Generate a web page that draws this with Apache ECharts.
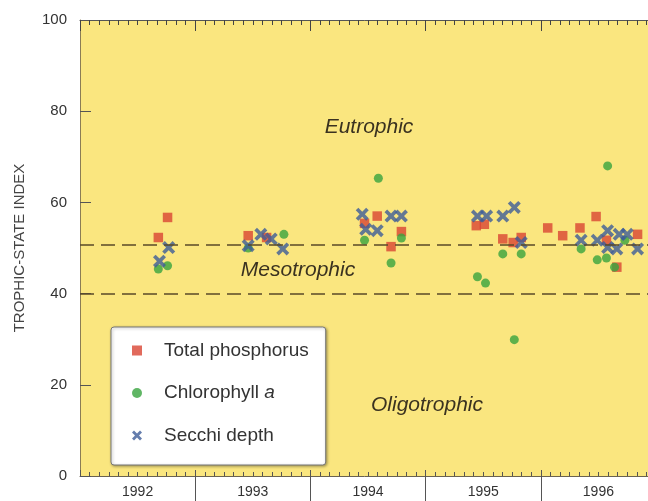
<!DOCTYPE html>
<html>
<head>
<meta charset="utf-8">
<script src="https://cdn.jsdelivr.net/npm/echarts@6/dist/echarts.min.js"></script>
<style>
html,body{margin:0;padding:0;background:#fff;}
#chart{width:648px;height:501px;}
</style>
</head>
<body>
<div id="chart"></div>
<script>
// ---- data ----
const yearLabels = ['1992', '1993', '1994', '1995', '1996'];
const yearBoundaries = [1993, 1994, 1995, 1996];
const thresholds = [50.7, 40];
const regionLabels = ['Eutrophic', 'Mesotrophic', 'Oligotrophic'];
const seriesNames = ['Total phosphorus', 'Chlorophyll a', 'Secchi depth'];

const phosphorus = [
  [1992.68, 52.3], [1992.76, 56.7],
  [1993.46, 52.7], [1993.62, 52.3],
  [1994.47, 55.4], [1994.58, 57.0], [1994.70, 50.3], [1994.79, 53.6],
  [1995.44, 54.9], [1995.51, 55.2], [1995.67, 52.0], [1995.76, 51.2], [1995.83, 52.3],
  [1996.06, 54.4], [1996.19, 52.7], [1996.34, 54.4], [1996.48, 56.9], [1996.57, 51.7],
  [1996.66, 45.8], [1996.84, 53.0]
];
const chlorophyll = [
  [1992.68, 45.4], [1992.76, 46.1],
  [1993.46, 50.0], [1993.77, 53.0],
  [1994.47, 51.7], [1994.59, 65.3], [1994.70, 46.7], [1994.79, 52.2],
  [1995.45, 43.7], [1995.52, 42.3], [1995.67, 48.7], [1995.77, 29.9], [1995.83, 48.7],
  [1996.35, 49.8], [1996.49, 47.4], [1996.57, 47.8], [1996.58, 68.0], [1996.64, 45.8],
  [1996.73, 51.7]
];
const secchi = [
  [1992.69, 47.1], [1992.77, 50.1],
  [1993.46, 50.5], [1993.57, 53.0], [1993.66, 52.0], [1993.76, 49.8],
  [1994.45, 57.4], [1994.48, 54.1], [1994.58, 53.8], [1994.70, 57.0], [1994.79, 57.0],
  [1995.45, 57.0], [1995.53, 57.0], [1995.67, 57.0], [1995.77, 58.9], [1995.83, 51.2],
  [1996.35, 51.7], [1996.49, 51.7], [1996.58, 53.8], [1996.58, 50.1], [1996.68, 53.0],
  [1996.75, 53.0], [1996.66, 49.8], [1996.84, 49.8]
];

// ---- styles ----
const FONT = '"Liberation Sans", Arial, sans-serif';
const RED = '#D94533', GREEN = '#38A43E', BLUE = '#3D5C99';
const XPATH = 'path://M0,2 L2,0 L5,3 L8,0 L10,2 L7,5 L10,8 L8,10 L5,7 L2,10 L0,8 L3,5 Z';

const chart = echarts.init(document.getElementById('chart'), null, {renderer: 'canvas'});

const baseX = {
  type: 'value', min: 1992, max: 1997, interval: 1,
  splitLine: {show: false}, axisLabel: {show: false}
};
const regionStyle = {fontFamily: FONT, fontSize: 21, fontStyle: 'italic', fill: '#3a3220',
  align: 'center', verticalAlign: 'middle'};

chart.setOption({
  backgroundColor: '#ffffff',
  animation: false,
  grid: {
    left: 80, right: -8, top: 20, bottom: 25,
    show: true, backgroundColor: '#FAE67F', borderWidth: 0,
    outerBoundsMode: 'none'
  },
  xAxis: [
    Object.assign({}, baseX, {
      position: 'bottom',
      axisLine: {show: true, lineStyle: {color: '#6a6250', width: 1}},
      axisTick: {show: true, inside: true, length: 6, lineStyle: {color: '#555'}},
      minorTick: {show: true, splitNumber: 12, length: 4, lineStyle: {color: '#555'}}
    }),
    Object.assign({}, baseX, {
      position: 'bottom',
      axisLine: {show: false},
      axisTick: {show: true, inside: false, length: 25, customValues: yearBoundaries,
        lineStyle: {color: '#555', width: 1}},
      axisLabel: {show: true, customValues: yearLabels.map(y => Number(y) + 0.5),
        formatter: v => String(Math.floor(v)),
        fontFamily: FONT, fontSize: 14, color: '#333', margin: 9}
    }),
    Object.assign({}, baseX, {
      position: 'top',
      axisLine: {show: true, lineStyle: {color: '#555', width: 1}},
      axisTick: {show: true, inside: true, length: 11, lineStyle: {color: '#444'}},
      minorTick: {show: true, splitNumber: 12, length: 5, lineStyle: {color: '#444'}}
    })
  ],
  yAxis: [
    {
      type: 'value', min: 0, max: 100, interval: 20, position: 'left',
      name: 'TROPHIC-STATE INDEX', nameLocation: 'middle', nameGap: 53,
      nameTextStyle: {fontFamily: FONT, fontSize: 15, color: '#444'},
      axisLine: {show: true, lineStyle: {color: '#8a7c55', width: 1}},
      axisTick: {show: true, inside: true, length: 11, lineStyle: {color: '#555'}},
      axisLabel: {fontFamily: FONT, fontSize: 15, color: '#333', margin: 13},
      splitLine: {show: false}
    },
    {
      type: 'value', min: 0, max: 100, interval: 20, position: 'right',
      axisLine: {show: true, lineStyle: {color: '#555'}},
      axisTick: {show: false}, axisLabel: {show: false}, splitLine: {show: false}
    }
  ],
  legend: {
    orient: 'vertical', left: 111, top: 327,
    backgroundColor: '#ffffff', borderColor: '#777', borderWidth: 1, borderRadius: 3,
    shadowColor: 'rgba(0,0,0,0.35)', shadowBlur: 3, shadowOffsetX: 1, shadowOffsetY: 1,
    padding: [14, 17, 20, 21],
    itemGap: 23.5, itemWidth: 10, itemHeight: 10,
    data: [
      {name: seriesNames[0], icon: 'rect'},
      {name: seriesNames[1], icon: 'circle'},
      {name: seriesNames[2], icon: XPATH}
    ],
    formatter: n => n === 'Chlorophyll a' ? 'Chlorophyll {i|a}' : n,
    textStyle: {
      fontFamily: FONT, fontSize: 19, color: '#333', padding: [0, 0, 0, 17],
      rich: {i: {fontFamily: FONT, fontSize: 19, fontStyle: 'italic', color: '#333'}}
    }
  },
  graphic: [
    {type: 'text', x: 369, y: 127, style: Object.assign({text: regionLabels[0]}, regionStyle)},
    {type: 'text', x: 298, y: 270, style: Object.assign({text: regionLabels[1]}, regionStyle)},
    {type: 'text', x: 427, y: 405, style: Object.assign({text: regionLabels[2]}, regionStyle)}
  ],
  series: [
    {
      name: seriesNames[0], type: 'scatter', xAxisIndex: 0, yAxisIndex: 0,
      symbol: 'rect', symbolSize: 9.5, itemStyle: {color: RED},
      data: phosphorus,
      markLine: {
        silent: true, symbol: 'none', label: {show: false},
        lineStyle: {color: '#5a4a28', width: 1.5, type: [14, 7]},
        data: thresholds.map(t => ({yAxis: t}))
      }
    },
    {
      name: seriesNames[1], type: 'scatter', xAxisIndex: 0, yAxisIndex: 0,
      symbol: 'circle', symbolSize: 9, itemStyle: {color: GREEN},
      data: chlorophyll
    },
    {
      name: seriesNames[2], type: 'scatter', xAxisIndex: 0, yAxisIndex: 0,
      symbol: XPATH, symbolSize: 13, itemStyle: {color: BLUE},
      data: secchi
    }
  ]
});
</script>
</body>
</html>
